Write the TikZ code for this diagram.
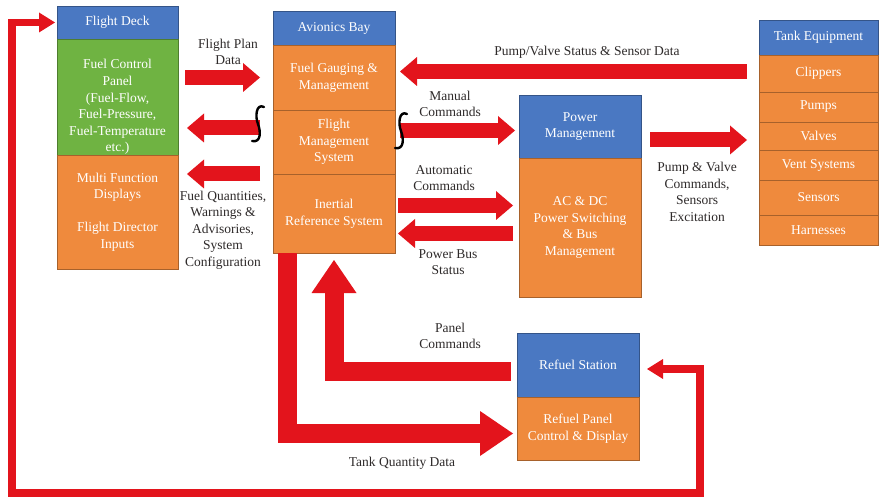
\documentclass[tikz,border=0pt]{standalone}
\usepackage{fontspec}
\setmainfont{Liberation Serif}
\usetikzlibrary{positioning,arrows.meta,calc}
\definecolor{hdrblue}   {HTML}{4A78C2}
\definecolor{cellorange}{HTML}{EF8A3D}
\definecolor{panelgreen}{HTML}{6FB342}
\definecolor{flowred}   {HTML}{E3141C}
\definecolor{labelink}  {HTML}{2E2A2A}
\tikzset{
  every node/.style={font=\fontsize{13.5}{16.6}\selectfont},
  % --- nodes
  cell/.style = {draw=cellorange!70!black, fill=cellorange, text=white, align=center,
                 inner sep=2pt, outer sep=0pt, line width=0.8pt, minimum width=121pt},
  hdr/.style  = {cell, draw=hdrblue!70!black, fill=hdrblue},
  pnl/.style  = {cell, draw=panelgreen!70!black, fill=panelgreen},
  lbl/.style  = {text=labelink, align=center, inner sep=0pt},
  % --- edges
  flow/.style    = {draw=flowred, line width=15pt,
                    -{Triangle[length=17pt,width=29pt,line width=0pt]}},
  bigflow/.style = {draw=flowred, line width=19pt,
                    -{Triangle[length=33pt,width=45pt,line width=0pt]}},
  loopflow/.style= {draw=flowred, line width=7.5pt,
                    {Triangle[length=16pt,width=20pt,line width=0pt]}-{Triangle[length=16pt,width=20pt,line width=0pt]}},
  brk/.style     = {draw=black, line width=2.4pt, line cap=round},
}

\begin{document}
\begin{tikzpicture}[x=1pt,y=-1pt]
  \useasboundingbox[fill=white] (0,0) rectangle (879,500);

  % flight deck
  \node[hdr, anchor=north west, minimum height=33pt] (fdHead) at (57,6) {Flight Deck};
  \node[pnl, below=0pt of fdHead, minimum height=116pt, text height=110pt, text depth=-17pt] (fcp)
    {Fuel Control\\Panel\\(Fuel-Flow,\\Fuel-Pressure,\\Fuel-Temperature\\etc.)};
  \node[cell, anchor=north west, minimum height=114pt] (mfd) at (57,155)
    {Multi Function\\Displays\\[16.6pt]Flight Director\\Inputs};

  % avionics bay
  \node[hdr, anchor=north west, minimum width=122pt, minimum height=34pt] (abHead) at (273,11) {Avionics Bay};
  \node[cell, below=0pt of abHead, minimum width=122pt, minimum height=65pt] (fgm) {Fuel Gauging \&\\Management};
  \node[cell, below=0pt of fgm, minimum width=122pt, minimum height=64pt] (fms) {Flight\\Management\\System};
  \node[cell, below=0pt of fms, minimum width=122pt, minimum height=79pt] (irs) {Inertial\\Reference System};

  % power management
  \node[hdr, anchor=north west, minimum width=122pt, minimum height=63pt] (pmHead) at (519,95) {Power\\Management};
  \node[cell, below=0pt of pmHead, minimum width=122pt, minimum height=139pt] (pmBody)
    {AC \& DC\\Power Switching\\\& Bus\\Management};

  % tank equipment
  \node[hdr, anchor=north west, minimum width=119pt, minimum height=35pt] (teHead) at (759,20) {Tank Equipment};
  \node[cell, below=0pt of teHead, minimum width=119pt, minimum height=37pt] (clip) {Clippers};
  \node[cell, below=0pt of clip, minimum width=119pt, minimum height=30pt] (pump) {Pumps};
  \node[cell, below=0pt of pump, minimum width=119pt, minimum height=28pt] (valv) {Valves};
  \node[cell, below=0pt of valv, minimum width=119pt, minimum height=30pt] (vent) {Vent Systems};
  \node[cell, below=0pt of vent, minimum width=119pt, minimum height=35pt] (sens) {Sensors};
  \node[cell, below=0pt of sens, minimum width=119pt, minimum height=30pt] (harn) {Harnesses};

  % refuel station
  \node[hdr, anchor=north west, minimum width=122pt, minimum height=64pt] (rsHead) at (517,333) {Refuel Station};
  \node[cell, below=0pt of rsHead, minimum width=122pt, minimum height=63pt] (rpBody) {Refuel Panel\\Control \& Display};

  % data flows
  \draw[flow] ([xshift=7pt]fcp.east |- fgm.west) -- ([xshift=-13pt]fgm.west);
  \draw[flow] ([xshift=-13pt,yshift=14pt]fms.west) -- ([xshift=9pt,yshift=14pt]fms.west -| fcp.east);
  \draw[flow] ([xshift=-13pt]irs.north west) -- ([xshift=9pt]irs.north west -| mfd.east);
  \draw[flow] ([xshift=-12pt,yshift=6pt]fgm.east -| clip.west) -- ([xshift=5pt,yshift=6pt]fgm.east);
  \draw[flow] ([xshift=5pt,yshift=-4pt]pmHead.west -| fms.east) -- ([xshift=-4pt,yshift=-4pt]pmHead.west);
  \draw[flow] ([xshift=3pt,yshift=8pt]irs.east) -- ([xshift=-6pt,yshift=8pt]irs.east -| pmBody.west);
  \draw[flow] ([xshift=-6pt,yshift=-20pt]irs.east -| pmBody.west) -- ([xshift=3pt,yshift=-20pt]irs.east);
  \draw[flow] ([xshift=9pt,yshift=-4pt]valv.west -| pmHead.east) -- ([xshift=-12pt,yshift=-4pt]valv.west);
  \draw[bigflow] ([xshift=-6pt,yshift=-6pt]rsHead.west) -| ([yshift=-7pt]irs.south);
  \draw[bigflow] ([xshift=-47pt]irs.south) |- ([xshift=-4pt,yshift=-5pt]rpBody.west);

  % outer loop between refuel station and flight deck
  \coordinate (loopL) at (12,493);
  \coordinate (loopR) at (700,493);
  \draw[loopflow] ([xshift=-2pt]fdHead.west) -| (loopL) -- (loopR) |- ([xshift=8pt,yshift=-4pt]rsHead.east);

  % break marks
  \draw[brk] (264,107) .. controls (256,103) and (255,117) .. (258,124)
                       .. controls (261,132) and (261,143) .. (252,141);
  \draw[brk] (407,114) .. controls (399,110) and (398,124) .. (401,131)
                       .. controls (404,139) and (404,150) .. (395,148);

  % flow labels
  \node[lbl] (lPlan)  at (228,52)  {Flight Plan\\Data};
  \node[lbl] (lQty)   at (223,230) {Fuel Quantities,\\Warnings \&\\Advisories,\\System\\Configuration};
  \node[lbl] (lPvs)   at (587,52)  {Pump/Valve Status \& Sensor Data};
  \node[lbl] (lMan)   at (450,104) {Manual\\Commands};
  \node[lbl] (lAuto)  at (444,178) {Automatic\\Commands};
  \node[lbl] (lBus)   at (448,262) {Power Bus\\Status};
  \node[lbl] (lPvc)   at (697,192) {Pump \& Valve\\Commands,\\Sensors\\Excitation};
  \node[lbl] (lPanel) at (450,336) {Panel\\Commands};
  \node[lbl] (lTank)  at (402,463) {Tank Quantity Data};
\end{tikzpicture}
\end{document}
